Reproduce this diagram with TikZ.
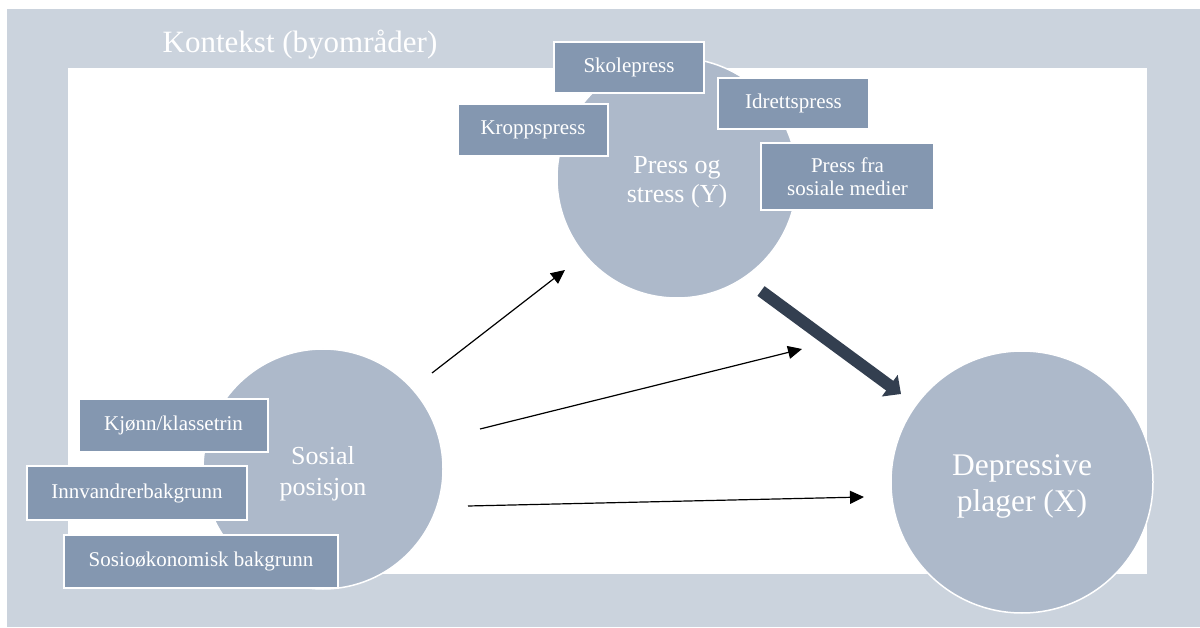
\documentclass[tikz,border=0pt]{standalone}
\usepackage{fontspec}
\setmainfont{Liberation Serif}
\usetikzlibrary{arrows.meta}
\definecolor{ctxgray}{HTML}{CBD3DD}
\definecolor{circfill}{HTML}{ADB9CA}
\definecolor{boxfill}{HTML}{8497B0}
\definecolor{darkarrow}{HTML}{333F50}
\begin{document}
\begin{tikzpicture}[x=1pt,y=-1pt,
  circ/.style={circle, fill=circfill, draw=white, line width=1.5pt, inner sep=0pt,
    minimum size=#1},
  circtext/.style={text=white, align=center, inner sep=0pt},
  box/.style={rectangle, fill=boxfill, draw=white, line width=2pt, text=white,
    align=center, inner sep=0pt, font=\fontsize{21}{23}\selectfont},
  thinarrow/.style={line width=1.2pt, -{Triangle[length=14pt,width=13pt]}},
  thickarrow/.style={line width=12pt, draw=darkarrow, fill=darkarrow,
    -{Triangle[length=14pt,width=26pt]}}]
\useasboundingbox (0,0) rectangle (1200,628);
\fill[white] (0,0) rectangle (1200,628);
\fill[ctxgray] (7,9) rectangle (1200,627);
\fill[white] (68,68) rectangle (1147,574);
\node[text=white, anchor=base, font=\fontsize{31}{34}\selectfont] (title) at (300,53) {Kontekst (byområder)};

% circles
\node[circ=240pt] (Y) at (677,178) {};
\node[circ=240pt] (S) at (323,469) {};
\node[circ=262pt] (X) at (1022,482) {};
\node[circtext, font=\fontsize{26}{29}\selectfont] (Ytext) at ([yshift=-4pt]Y.center) {Press og\\stress (Y)};
\node[circtext, font=\fontsize{26}{31}\selectfont] (Stext) at ([yshift=-5pt]S.center) {Sosial\\posisjon};
\node[circtext, font=\fontsize{31.5}{36}\selectfont] (Xtext) at ([yshift=-4pt]X.center) {Depressive\\plager (X)};

% boxes
\node[box, minimum width=150pt, minimum height=51pt] (skole) at (629,67.5) {Skolepress};
\node[box, minimum width=151pt, minimum height=51pt] (idrett) at (793.5,103.5) {Idrettspress};
\node[box, minimum width=150pt, minimum height=52pt] (kropp) at (533,130) {Kroppspress};
\node[box, minimum width=173pt, minimum height=67pt] (sosmed) at (847.5,176.5) {Press fra\\sosiale medier};
\node[box, minimum width=189pt, minimum height=53pt] (kjonn) at (173.5,425.5) {Kjønn/klassetrin};
\node[box, minimum width=220pt, minimum height=54pt] (innv) at (137,493) {Innvandrerbakgrunn};
\node[box, minimum width=274pt, minimum height=53pt] (sosio) at (201,561.5) {Sosioøkonomisk bakgrunn};

% arrows
\coordinate (a1s) at (432,373);
\coordinate (a1e) at (565,270);
\coordinate (a2s) at (480,429);
\coordinate (a2e) at (802,349);
\coordinate (a3s) at (468,506);
\coordinate (a3e) at (864,497);
\coordinate (a4s) at (761,291);
\coordinate (a4e) at (901,394);
\draw[thinarrow] (a1s) -- (a1e);
\draw[thinarrow] (a2s) -- (a2e);
\draw[thinarrow] (a3s) -- (a3e);
\draw[thickarrow] (a4s) -- (a4e);
\end{tikzpicture}
\end{document}
